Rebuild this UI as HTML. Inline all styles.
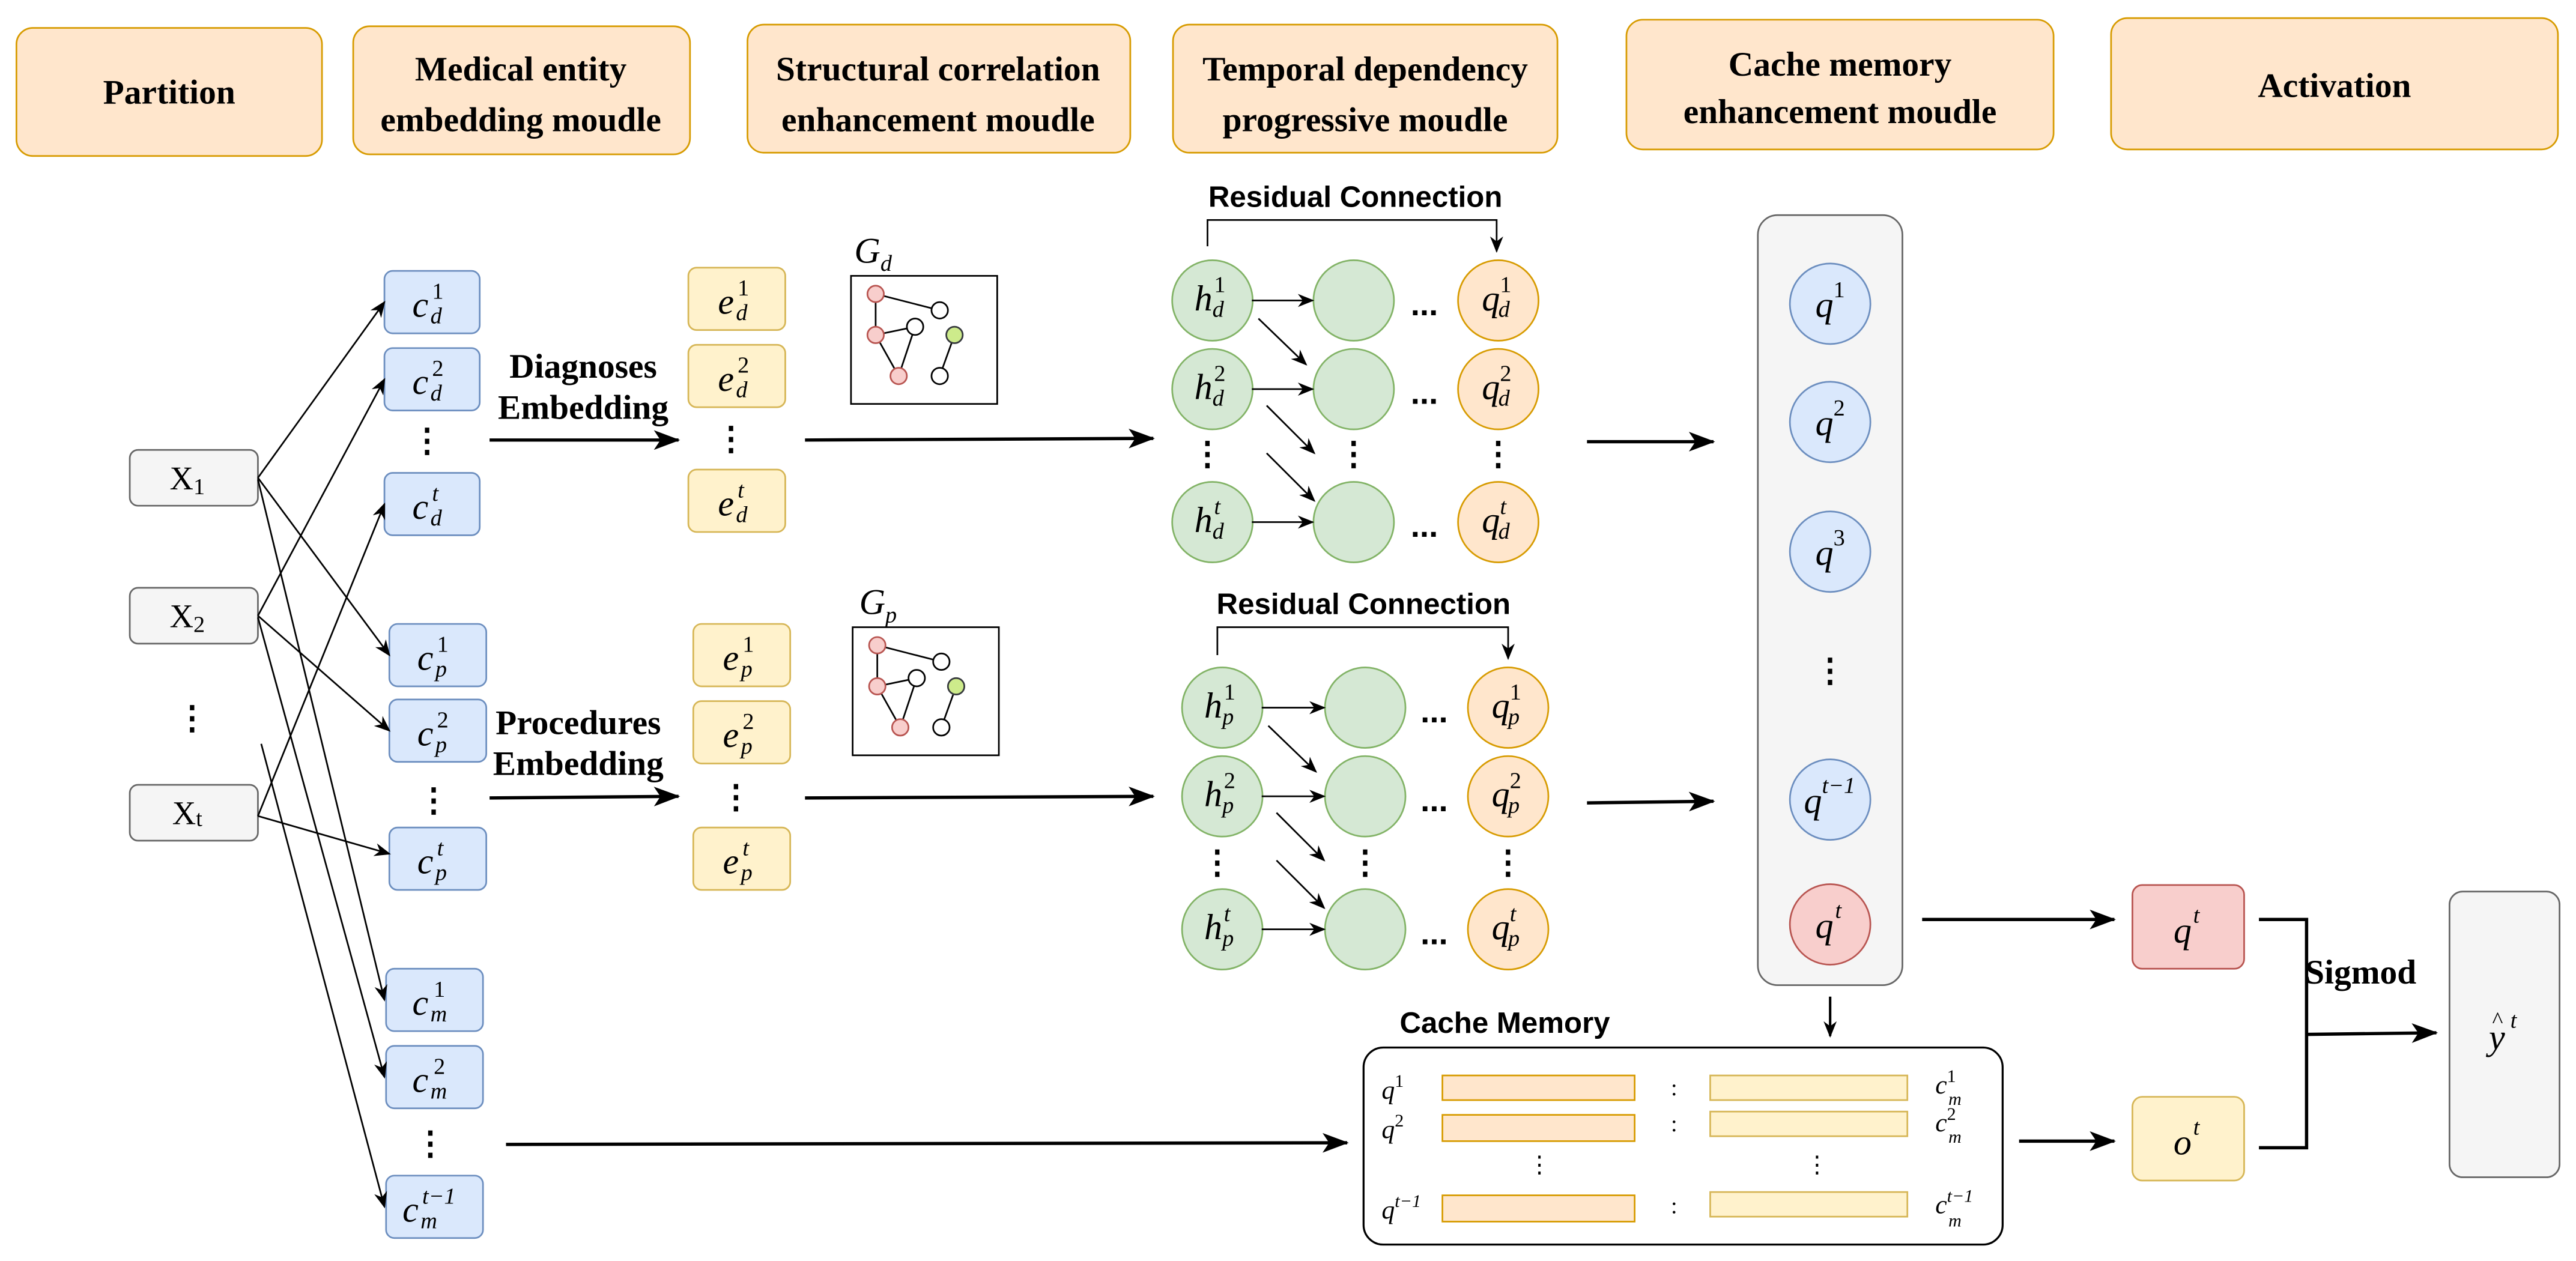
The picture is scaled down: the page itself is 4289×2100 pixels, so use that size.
<!DOCTYPE html>
<html><head><meta charset="utf-8"><style>
html,body{margin:0;padding:0;background:#fff}
svg{display:block}
.h{font-family:"Liberation Serif",serif;font-weight:bold;font-size:21px;text-anchor:middle}
.m{font-family:"Liberation Serif",serif;font-style:italic;font-size:22px}
.s{font-family:"Liberation Serif",serif;font-size:14px}
.si{font-family:"Liberation Serif",serif;font-style:italic;font-size:14px}
.rc{font-family:"Liberation Sans",sans-serif;font-weight:bold;font-size:18px;text-anchor:middle}
.dots{font-family:"Liberation Sans",sans-serif;font-weight:bold;font-size:20px;text-anchor:middle}
</style></head><body>
<svg width="4289" height="2100" viewBox="0 0 1568 768" preserveAspectRatio="none" xmlns="http://www.w3.org/2000/svg">
<defs>
<marker id="a" markerWidth="10" markerHeight="8" refX="9" refY="4" orient="auto" markerUnits="userSpaceOnUse"><path d="M0,0 L10,4 L0,8 L3,4 z" fill="#000"/></marker>
<marker id="b" markerWidth="16" markerHeight="12" refX="15" refY="6" orient="auto" markerUnits="userSpaceOnUse"><path d="M0,0 L16,6 L0,12 L4,6 z" fill="#000"/></marker>
</defs>
<g fill="#ffe6cc" stroke="#d79b00" stroke-width="1">
<rect x="10" y="17" width="186" height="78" rx="10"/>
<rect x="215" y="16" width="205" height="78" rx="10"/>
<rect x="455" y="15" width="233" height="78" rx="10"/>
<rect x="714" y="15" width="234" height="78" rx="10"/>
<rect x="990" y="12" width="260" height="79" rx="10"/>
<rect x="1285" y="11" width="272" height="80" rx="10"/>
</g>
<text class="h" x="103" y="63">Partition</text>
<text class="h" x="317" y="49">Medical entity</text><text class="h" x="317" y="80">embedding moudle</text>
<text class="h" x="571" y="49">Structural correlation</text><text class="h" x="571" y="80">enhancement moudle</text>
<text class="h" x="831" y="49">Temporal dependency</text><text class="h" x="831" y="80">progressive moudle</text>
<text class="h" x="1120" y="46">Cache memory</text><text class="h" x="1120" y="75">enhancement moudle</text>
<text class="h" x="1421" y="59">Activation</text>

<g fill="#f5f5f5" stroke="#666" stroke-width="1">
<rect x="79" y="274" width="78" height="34" rx="5"/>
<rect x="79" y="358" width="78" height="34" rx="5"/>
<rect x="79" y="478" width="78" height="34" rx="5"/>
</g>
<g font-family="Liberation Serif,serif" font-size="20" text-anchor="middle">
<text x="114" y="298">X<tspan font-size="14" dy="3">1</tspan></text>
<text x="114" y="382">X<tspan font-size="14" dy="3">2</tspan></text>
<text x="114" y="502">X<tspan font-size="14" dy="1">t</tspan></text>
</g>
<text class="dots" x="117" y="444">⋮</text>

<g fill="#dae8fc" stroke="#6c8ebf" stroke-width="1">
<rect x="234" y="165" width="58" height="38" rx="5"/>
<rect x="234" y="212" width="58" height="38" rx="5"/>
<rect x="234" y="288" width="58" height="38" rx="5"/>
<rect x="237" y="380" width="59" height="38" rx="5"/>
<rect x="237" y="426" width="59" height="38" rx="5"/>
<rect x="237" y="504" width="59" height="38" rx="5"/>
<rect x="235" y="590" width="59" height="38" rx="5"/>
<rect x="235" y="637" width="59" height="38" rx="5"/>
<rect x="235" y="716" width="59" height="38" rx="5"/>
</g>
<g fill="#fff2cc" stroke="#d6b656" stroke-width="1">
<rect x="419" y="163" width="59" height="38" rx="5"/>
<rect x="419" y="210" width="59" height="38" rx="5"/>
<rect x="419" y="286" width="59" height="38" rx="5"/>
<rect x="422" y="380" width="59" height="38" rx="5"/>
<rect x="422" y="427" width="59" height="38" rx="5"/>
<rect x="422" y="504" width="59" height="38" rx="5"/>
</g>
<g>
<text class="m" x="251" y="193">c</text><text class="s" x="263" y="182">1</text><text class="si" x="262" y="197">d</text>
<text class="m" x="251" y="240">c</text><text class="s" x="263" y="229">2</text><text class="si" x="262" y="244">d</text>
<text class="m" x="251" y="316">c</text><text class="si" x="263" y="305">t</text><text class="si" x="262" y="320">d</text>
<text class="m" x="254" y="408">c</text><text class="s" x="266" y="397">1</text><text class="si" x="265" y="412">p</text>
<text class="m" x="254" y="454">c</text><text class="s" x="266" y="443">2</text><text class="si" x="265" y="458">p</text>
<text class="m" x="254" y="532">c</text><text class="si" x="266" y="521">t</text><text class="si" x="265" y="536">p</text>
<text class="m" x="251" y="618">c</text><text class="s" x="264" y="607">1</text><text class="si" x="262" y="622">m</text>
<text class="m" x="251" y="665">c</text><text class="s" x="264" y="654">2</text><text class="si" x="262" y="669">m</text>
<text class="m" x="245" y="744">c</text><text class="si" x="257" y="733">t−1</text><text class="si" x="256" y="748">m</text>
<text class="m" x="437" y="191">e</text><text class="s" x="449" y="180">1</text><text class="si" x="448" y="195">d</text>
<text class="m" x="437" y="238">e</text><text class="s" x="449" y="227">2</text><text class="si" x="448" y="242">d</text>
<text class="m" x="437" y="314">e</text><text class="si" x="449" y="303">t</text><text class="si" x="448" y="318">d</text>
<text class="m" x="440" y="408">e</text><text class="s" x="452" y="397">1</text><text class="si" x="451" y="412">p</text>
<text class="m" x="440" y="455">e</text><text class="s" x="452" y="444">2</text><text class="si" x="451" y="459">p</text>
<text class="m" x="440" y="532">e</text><text class="si" x="452" y="521">t</text><text class="si" x="451" y="536">p</text>
</g>
<g class="dots"><text class="dots" x="260" y="275">⋮</text><text class="dots" x="264" y="494">⋮</text><text class="dots" x="262" y="703">⋮</text>
<text class="dots" x="445" y="274">⋮</text><text class="dots" x="448" y="492">⋮</text></g>

<g stroke="#000" stroke-width="1" fill="none" marker-end="url(#a)">
<line x1="157" y1="291" x2="234" y2="184"/>
<line x1="157" y1="291" x2="237" y2="399"/>
<line x1="157" y1="292" x2="234" y2="609"/>
<line x1="157" y1="375" x2="234" y2="231"/>
<line x1="157" y1="375" x2="237" y2="445"/>
<line x1="157" y1="376" x2="234" y2="656"/>
<line x1="157" y1="497" x2="234" y2="307"/>
<line x1="157" y1="497" x2="237" y2="520"/>
<line x1="159" y1="453" x2="234" y2="735"/>
</g>

<text class="h" x="355" y="230" font-size="18">Diagnoses</text><text class="h" x="355" y="255" font-size="18">Embedding</text>
<text class="h" x="352" y="447" font-size="18">Procedures</text><text class="h" x="352" y="472" font-size="18">Embedding</text>
<g stroke="#000" stroke-width="2" fill="none" marker-end="url(#b)">
<line x1="298" y1="268" x2="413" y2="268"/>
<line x1="298" y1="486" x2="413" y2="485"/>
<line x1="490" y1="268" x2="702" y2="267"/>
<line x1="490" y1="486" x2="702" y2="485"/>
<line x1="966" y1="269" x2="1043" y2="269"/>
<line x1="966" y1="489" x2="1043" y2="488"/>
<line x1="1170" y1="560" x2="1287" y2="560"/>
<line x1="1229" y1="695" x2="1287" y2="695"/>
<line x1="1404" y1="630" x2="1483" y2="629"/>
<line x1="308" y1="697" x2="820" y2="696"/>
</g>

<text class="m" x="520" y="160" font-size="22">G<tspan font-size="14" dy="5">d</tspan></text>
<text class="m" x="523" y="374" font-size="22">G<tspan font-size="14" dy="5">p</tspan></text>
<g id="gr" stroke="#000" stroke-width="1">
<rect x="518" y="168" width="89" height="78" fill="#fff"/>
<line x1="533" y1="179" x2="572" y2="189"/><line x1="533" y1="179" x2="533" y2="204"/>
<line x1="533" y1="204" x2="557" y2="199"/><line x1="533" y1="204" x2="547" y2="229"/>
<line x1="557" y1="199" x2="547" y2="229"/><line x1="581" y1="204" x2="572" y2="229"/>
<circle cx="533" cy="179" r="5" fill="#f8cecc" stroke="#b85450"/>
<circle cx="572" cy="189" r="5" fill="#fff"/>
<circle cx="533" cy="204" r="5" fill="#f8cecc" stroke="#b85450"/>
<circle cx="557" cy="199" r="5" fill="#fff"/>
<circle cx="581" cy="204" r="5" fill="#cdeb8b" stroke="#36393d"/>
<circle cx="547" cy="229" r="5" fill="#f8cecc" stroke="#b85450"/>
<circle cx="572" cy="229" r="5" fill="#fff"/>
</g>
<use href="#gr" transform="translate(1,214)"/>

<text class="rc" x="825" y="126">Residual Connection</text>
<polyline points="735,150 735,134 911,134 911,153" fill="none" stroke="#000" stroke-width="1" marker-end="url(#a)"/>
<text class="rc" x="830" y="374">Residual Connection</text>
<polyline points="741,399 741,382 918,382 918,401" fill="none" stroke="#000" stroke-width="1" marker-end="url(#a)"/>
<g stroke-width="1">
<g fill="#d5e8d4" stroke="#82b366">
<circle cx="738" cy="183" r="24.5"/><circle cx="738" cy="237" r="24.5"/><circle cx="738" cy="318" r="24.5"/>
<circle cx="824" cy="183" r="24.5"/><circle cx="824" cy="237" r="24.5"/><circle cx="824" cy="318" r="24.5"/>
<circle cx="744" cy="431" r="24.5"/><circle cx="744" cy="485" r="24.5"/><circle cx="744" cy="566" r="24.5"/>
<circle cx="831" cy="431" r="24.5"/><circle cx="831" cy="485" r="24.5"/><circle cx="831" cy="566" r="24.5"/>
</g>
<g fill="#ffe6cc" stroke="#d79b00">
<circle cx="912" cy="183" r="24.5"/><circle cx="912" cy="237" r="24.5"/><circle cx="912" cy="318" r="24.5"/>
<circle cx="918" cy="431" r="24.5"/><circle cx="918" cy="485" r="24.5"/><circle cx="918" cy="566" r="24.5"/>
</g>
</g>
<g stroke="#000" stroke-width="1" marker-end="url(#a)">
<line x1="762" y1="183" x2="799" y2="183"/><line x1="762" y1="237" x2="799" y2="237"/><line x1="762" y1="318" x2="799" y2="318"/>
<line x1="766" y1="194" x2="795" y2="222"/><line x1="771" y1="247" x2="800" y2="276"/><line x1="771" y1="276" x2="800" y2="305"/>
<line x1="768" y1="431" x2="806" y2="431"/><line x1="768" y1="485" x2="806" y2="485"/><line x1="768" y1="566" x2="806" y2="566"/>
<line x1="772" y1="442" x2="801" y2="470"/><line x1="777" y1="495" x2="806" y2="524"/><line x1="777" y1="524" x2="806" y2="553"/>
</g>
<g class="dots">
<text class="dots" x="867" y="192">...</text><text class="dots" x="867" y="246">...</text><text class="dots" x="867" y="327">...</text>
<text class="dots" x="873" y="440">...</text><text class="dots" x="873" y="494">...</text><text class="dots" x="873" y="575">...</text>
<text class="dots" x="735" y="283">⋮</text><text class="dots" x="824" y="283">⋮</text><text class="dots" x="912" y="283">⋮</text>
<text class="dots" x="741" y="532">⋮</text><text class="dots" x="831" y="532">⋮</text><text class="dots" x="918" y="532">⋮</text>
</g>
<g>
<text class="m" x="727" y="189">h</text><text class="s" x="739" y="178">1</text><text class="si" x="738" y="193">d</text>
<text class="m" x="727" y="243">h</text><text class="s" x="739" y="232">2</text><text class="si" x="738" y="247">d</text>
<text class="m" x="727" y="324">h</text><text class="si" x="739" y="313">t</text><text class="si" x="738" y="328">d</text>
<text class="m" x="733" y="437">h</text><text class="s" x="745" y="426">1</text><text class="si" x="744" y="441">p</text>
<text class="m" x="733" y="491">h</text><text class="s" x="745" y="480">2</text><text class="si" x="744" y="495">p</text>
<text class="m" x="733" y="572">h</text><text class="si" x="745" y="561">t</text><text class="si" x="744" y="576">p</text>
<text class="m" x="902" y="189">q</text><text class="s" x="913" y="178">1</text><text class="si" x="912" y="193">d</text>
<text class="m" x="902" y="243">q</text><text class="s" x="913" y="232">2</text><text class="si" x="912" y="247">d</text>
<text class="m" x="902" y="324">q</text><text class="si" x="913" y="313">t</text><text class="si" x="912" y="328">d</text>
<text class="m" x="908" y="437">q</text><text class="s" x="919" y="426">1</text><text class="si" x="918" y="441">p</text>
<text class="m" x="908" y="491">q</text><text class="s" x="919" y="480">2</text><text class="si" x="918" y="495">p</text>
<text class="m" x="908" y="572">q</text><text class="si" x="919" y="561">t</text><text class="si" x="918" y="576">p</text>
</g>

<rect x="1070" y="131" width="88" height="469" rx="12" fill="#f5f5f5" stroke="#666" stroke-width="1"/>
<g fill="#dae8fc" stroke="#6c8ebf" stroke-width="1">
<circle cx="1114" cy="185" r="24.5"/><circle cx="1114" cy="257" r="24.5"/><circle cx="1114" cy="336" r="24.5"/><circle cx="1114" cy="487" r="24.5"/>
</g>
<circle cx="1114" cy="563" r="24.5" fill="#f8cecc" stroke="#b85450" stroke-width="1"/>
<text class="m" x="1105" y="193">q</text><text class="s" x="1116" y="181">1</text>
<text class="m" x="1105" y="265">q</text><text class="s" x="1116" y="253">2</text>
<text class="m" x="1105" y="344">q</text><text class="s" x="1116" y="332">3</text>
<text class="m" x="1098" y="495">q</text><text class="si" x="1109" y="483">t−1</text>
<text class="m" x="1105" y="571">q</text><text class="si" x="1117" y="559">t</text>
<text class="dots" x="1114" y="415">⋮</text>
<line x1="1114" y1="607" x2="1114" y2="631" stroke="#000" stroke-width="1.5" marker-end="url(#a)"/>

<text class="rc" x="916" y="629">Cache Memory</text>
<rect x="830" y="638" width="389" height="120" rx="12" fill="#fff" stroke="#000" stroke-width="1.2"/>
<g fill="#ffe6cc" stroke="#d79b00" stroke-width="1">
<rect x="878" y="655" width="117" height="15"/><rect x="878" y="679" width="117" height="16"/><rect x="878" y="728" width="117" height="16"/>
</g>
<g fill="#fff2cc" stroke="#d6b656" stroke-width="1">
<rect x="1041" y="655" width="120" height="15"/><rect x="1041" y="677" width="120" height="15"/><rect x="1041" y="726" width="120" height="15"/>
</g>
<g font-family="Liberation Serif,serif" font-size="14" text-anchor="middle">
<text x="1019" y="667">:</text><text x="1019" y="689">:</text><text x="1019" y="739">:</text>
<text x="937" y="714">⋮</text><text x="1106" y="714">⋮</text>
</g>
<g font-family="Liberation Serif,serif" font-style="italic" font-size="16">
<text x="841" y="669">q<tspan font-size="11" font-style="normal" dy="-7">1</tspan></text>
<text x="841" y="693">q<tspan font-size="11" font-style="normal" dy="-7">2</tspan></text>
<text x="841" y="742">q<tspan font-size="11" dy="-7">t−1</tspan></text>
<text x="1178" y="666">c<tspan font-size="11" font-style="normal" dy="-7">1</tspan></text><text x="1186" y="673" font-size="11">m</text>
<text x="1178" y="689">c<tspan font-size="11" font-style="normal" dy="-7">2</tspan></text><text x="1186" y="696" font-size="11">m</text>
<text x="1178" y="739">c<tspan font-size="11" dy="-7">t−1</tspan></text><text x="1186" y="747" font-size="11">m</text>
</g>

<rect x="1298" y="539" width="68" height="51" rx="6" fill="#f8cecc" stroke="#b85450" stroke-width="1"/>
<rect x="1298" y="668" width="68" height="51" rx="6" fill="#fff2cc" stroke="#d6b656" stroke-width="1"/>
<rect x="1491" y="543" width="67" height="174" rx="8" fill="#f5f5f5" stroke="#666" stroke-width="1"/>
<text class="m" x="1323" y="574">q</text><text class="si" x="1335" y="562">t</text>
<text class="m" x="1323" y="703">o</text><text class="si" x="1335" y="691">t</text>
<text class="m" x="1515" y="639">y</text><text class="s" x="1517" y="626">^</text><text class="si" x="1528" y="626">t</text>
<polyline points="1375,560 1404,560 1404,699 1375,699" fill="none" stroke="#000" stroke-width="2"/>
<text class="h" x="1437" y="599" font-size="17">Sigmod</text>
</svg>
</body></html>
